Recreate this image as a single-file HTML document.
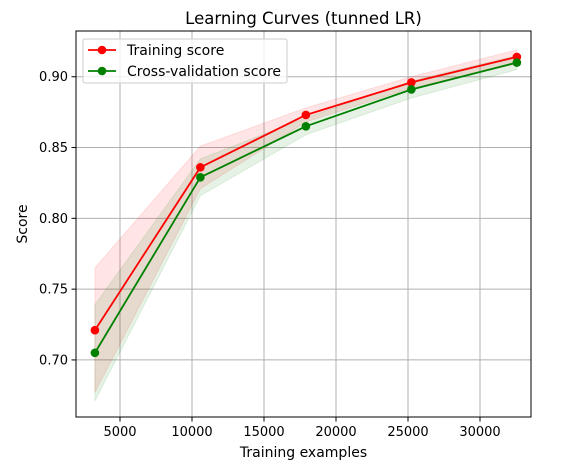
<!DOCTYPE html>
<html><head><meta charset="utf-8"><style>
body{margin:0;background:#fff;}
svg text{font-family:"DejaVu Sans","Liberation Sans",sans-serif;fill:#000;}
</style></head><body>
<svg id="chart" width="568" height="464" xmlns="http://www.w3.org/2000/svg">
<g id="grid"></g>
<g id="bands"></g>
<g id="series"></g>
<g id="axes"></g>
</svg>
<script>
const trainSizes=[3256,10582,17908,25234,32561];
const trainMean=[0.721,0.836,0.873,0.896,0.914];
const trainStd=[0.044,0.015,0.005,0.004,0.005];
const cvMean=[0.705,0.829,0.865,0.891,0.910];
const cvStd=[0.034,0.013,0.006,0.006,0.005];
const xTicks=[5000,10000,15000,20000,25000,30000];
const yTicks=[0.70,0.75,0.80,0.85,0.90];

const L=76,R=531,T=31,B=417;
const xMin=1944,xMax=33542,yMin=0.6597,yMax=0.9323;
const sx=v=>L+(v-xMin)/(xMax-xMin)*(R-L);
const sy=v=>B-(v-yMin)/(yMax-yMin)*(B-T);
const NS='http://www.w3.org/2000/svg';
function mk(tag,attrs,parent){const e=document.createElementNS(NS,tag);for(const k in attrs)e.setAttribute(k,attrs[k]);parent.appendChild(e);return e;}
const grid=document.getElementById('grid'),bands=document.getElementById('bands'),series=document.getElementById('series'),axes=document.getElementById('axes');

xTicks.forEach(t=>{const x=sx(t);
 let g=mk('line',{x1:x,x2:x,y1:T,y2:B,stroke:'#b0b0b0','stroke-width':1},grid);
 
 mk('line',{x1:x,x2:x,y1:B,y2:B+4.5,stroke:'#000','stroke-width':1},axes);
 let tx=mk('text',{x:x,y:B+19,'text-anchor':'middle','font-size':13},axes);tx.textContent=t;
 
});
yTicks.forEach(t=>{const y=sy(t);
 let g=mk('line',{x1:L,x2:R,y1:y,y2:y,stroke:'#b0b0b0','stroke-width':1},grid);
 
 mk('line',{x1:L-4.5,x2:L,y1:y,y2:y,stroke:'#000','stroke-width':1},axes);
 let tx=mk('text',{x:L-8,y:y+4.5,'text-anchor':'end','font-size':13},axes);tx.textContent=t.toFixed(2);
 
});

function band(mean,std,color,name){
 const up=trainSizes.map((s,i)=>sx(s)+','+sy(mean[i]+std[i]));
 const dn=trainSizes.map((s,i)=>sx(s)+','+sy(mean[i]-std[i])).reverse();
 const p=mk('polygon',{points:up.concat(dn).join(' '),fill:color,'fill-opacity':0.1,stroke:color,'stroke-opacity':0.1},bands);
 
}
band(trainMean,trainStd,'#ff0000','training-std-band');
band(cvMean,cvStd,'#008000','cv-std-band');

function line(mean,color,name){
 const pl=mk('polyline',{points:trainSizes.map((s,i)=>sx(s)+','+sy(mean[i])).join(' '),fill:'none',stroke:color,'stroke-width':1.8},series);
 
 trainSizes.forEach((s,i)=>{const c=mk('circle',{cx:sx(s),cy:sy(mean[i]),r:4.3,fill:color},series);
  });
}
line(trainMean,'#ff0000','training-score');
line(cvMean,'#008000','cv-score');

let fr=mk('rect',{x:L,y:T,width:R-L,height:B-T,fill:'none',stroke:'#000','stroke-width':1},axes);

let ti=mk('text',{x:(L+R)/2,y:24,'text-anchor':'middle','font-size':16.5},axes);ti.textContent='Learning Curves (tunned LR)';

let xl=mk('text',{x:(L+R)/2,y:457,'text-anchor':'middle','font-size':14},axes);xl.textContent='Training examples';

let yl=mk('text',{x:0,y:0,'text-anchor':'middle','font-size':14,transform:'translate(27,'+((T+B)/2)+') rotate(-90)'},axes);yl.textContent='Score';


const lg=mk('g',{},axes);

mk('rect',{x:83,y:39,width:204,height:44,rx:2,fill:'#fff','fill-opacity':0.8,stroke:'#ccc','stroke-width':1},lg);
[['Training score','#ff0000',50],['Cross-validation score','#008000',71]].forEach(([t,c,y])=>{
 const e=mk('g',{},lg);
 
 mk('line',{x1:88,x2:116,y1:y,y2:y,stroke:c,'stroke-width':1.8},e);
 mk('circle',{cx:102,cy:y,r:4.3,fill:c},e);
 const tx=mk('text',{x:127,y:y+5,'font-size':14},e);tx.textContent=t;
});
</script>
</body></html>
